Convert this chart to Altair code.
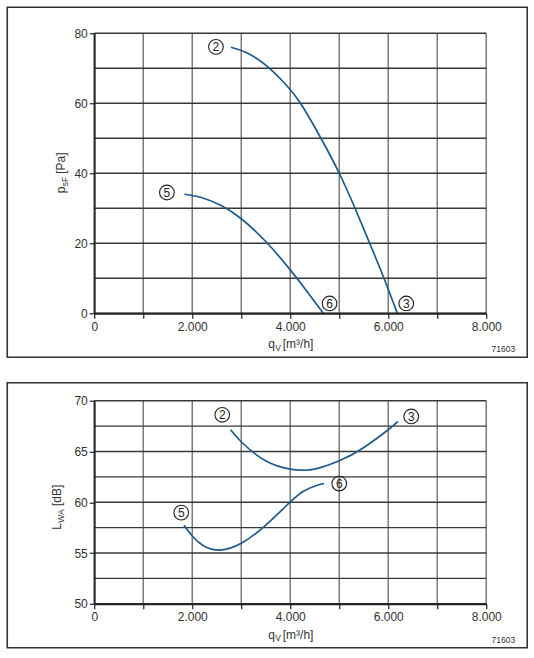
import altair as alt
import pandas as pd

# ---------------- data ----------------
x_ticks = [0, 1000, 2000, 3000, 4000, 5000, 6000, 7000, 8000]
p_ticks = [0, 10, 20, 30, 40, 50, 60, 70, 80]
L_ticks = [50, 52.5, 55, 57.5, 60, 62.5, 65, 67.5, 70]

# pressure curves (q in m3/h, p in Pa)
p23_q = [2790, 3100, 3500, 3900, 4209, 4626, 5000, 5322, 5621, 5913, 6185]
p23_v = [76.0, 74.5, 70.9, 65.5, 60.0, 50.0, 40.0, 30.0, 20.0, 10.0, 0.0]
p56_q = [1840, 2200, 2600, 3000, 3500, 4000, 4350, 4675]
p56_v = [34.0, 33.0, 30.7, 27.0, 20.5, 12.4, 6.1, 0.0]

# sound power curves (q in m3/h, L in dB)
L23_q = [2782, 3000, 3496, 4000, 4245, 4496, 5000, 5503, 6000, 6197]
L23_v = [67.14, 65.96, 64.08, 63.26, 63.16, 63.26, 64.08, 65.40, 67.14, 67.96]
L56_q = [1830, 2000, 2237, 2578, 3000, 3496, 4000, 4278, 4551, 4687]
L56_v = [57.73, 56.68, 55.69, 55.29, 55.95, 57.73, 60.03, 61.12, 61.68, 61.84]

label_names = ["2", "3", "5", "6"]
p_label_q = [2484, 6367, 1483, 4802]
p_label_v = [76.1, 2.8, 34.5, 2.8]
L_label_q = [2612, 6469, 1775, 5000]
L_label_v = [68.62, 68.45, 58.98, 61.84]

fig_number = "71603"

# ---------------- style ----------------
FONT = "Liberation Sans"
CURVE = "#1d5a8c"
W = 392
H_TOP = 280
H_BOT = 203


def x_axis():
    return alt.Axis(
        values=x_ticks,
        labelExpr="datum.value % 2000 == 0 ? replace(format(datum.value, ','), ',', '.') : ' '",
        title=None, grid=False,
        tickColor="#222", tickSize=5, tickWidth=1.2,
        domainColor="#222", domainWidth=1.8,
        labelFont=FONT, labelFontSize=12, labelColor="#333",
        labelPadding=3, labelFlush=False, labelOverlap=False, zindex=2,
    )


def y_axis(ticks, step):
    return alt.Axis(
        values=ticks,
        labelExpr=f"datum.value % {step} == 0 ? format(datum.value, 'd') : ' '",
        title=None, grid=False,
        tickColor="#222", tickSize=5, tickWidth=1.2,
        domainColor="#222", domainWidth=1.8,
        labelFont=FONT, labelFontSize=12, labelColor="#333",
        labelPadding=2, labelFlush=False, labelOverlap=False, zindex=2,
    )


one = alt.Data(values=[{"k": 1}])


def txt(s, x, y, size=12, angle=0, align="left", dy=0):
    kw = dict(text=s, font=FONT, fontSize=size, color="#333",
              align=align, baseline="alphabetic")
    if angle:
        kw["angle"] = angle
    return alt.Chart(one).mark_text(**kw).encode(
        x=alt.value(x), y=alt.value(y + dy))


def panel(cq, cv, lq, lv, ymin, ymax, ticks, step, h, box_top, ytitle, ytitle_x):
    df = pd.concat([
        pd.DataFrame({"q": cq[0], "v": cv[0], "curve": "a"}),
        pd.DataFrame({"q": cq[1], "v": cv[1], "curve": "b"}),
    ])
    lab = pd.DataFrame({"q": lq, "v": lv, "t": label_names})

    xs = alt.Scale(domain=[0, 8000], nice=False)
    ys = alt.Scale(domain=[ymin, ymax], nice=False, zero=False)

    vgrid = alt.Chart(pd.DataFrame({"q": x_ticks})).mark_rule(
        color="#7c7c7c", strokeWidth=1.5
    ).encode(x=alt.X("q:Q", scale=xs, axis=x_axis()))
    hgrid = alt.Chart(pd.DataFrame({"v": ticks})).mark_rule(
        color="#383838", strokeWidth=1.4
    ).encode(y=alt.Y("v:Q", scale=ys, axis=y_axis(ticks, step)))

    box = alt.Chart(one).mark_rect(
        filled=False, stroke="#333333", strokeWidth=1.6
    ).encode(x=alt.value(-87), x2=alt.value(W + 41),
             y=alt.value(box_top), y2=alt.value(h + 44))

    lines = alt.Chart(df).mark_line(
        color=CURVE, strokeWidth=1.7, interpolate="natural"
    ).encode(
        x=alt.X("q:Q", scale=xs),
        y=alt.Y("v:Q", scale=ys),
        detail="curve:N",
    )

    circ = alt.Chart(lab).mark_point(
        shape="circle", filled=False, size=215, stroke="#222", strokeWidth=1.1, opacity=1
    ).encode(x="q:Q", y="v:Q")
    ctext = alt.Chart(lab).mark_text(
        font=FONT, fontSize=12, color="#222", baseline="middle", dy=0.5
    ).encode(x="q:Q", y="v:Q", text="t:N")

    base_y = h + 35
    xt = [
        txt("q", 174, base_y),
        txt("V", 181, base_y, size=8.5, dy=2.5),
        txt("[m³/h]", 188.5, base_y),
    ]
    yt = []
    main, sub, unit, y0 = ytitle
    # rotated title: text runs upward from anchor
    yt.append(txt(main, ytitle_x, y0, angle=270))
    yt.append(txt(sub, ytitle_x + 2.5, y0 - 7, size=8.5, angle=270))
    unit_y = y0 - 7 - (9.4 if sub == "sF" else 13.7) - 3
    yt.append(txt(unit, ytitle_x, unit_y, angle=270))

    num = txt(fig_number, 421, h + 39, size=8.5, align="right")

    return alt.layer(vgrid, hgrid, box, lines, circ, ctext, *xt, *yt, num).properties(
        width=W, height=h)


top = panel([p23_q, p56_q], [p23_v, p56_v], p_label_q, p_label_v,
            0, 80, p_ticks, 20, H_TOP, -26, ("p", "sF", "[Pa]", 160), -29)
bot = panel([L23_q, L56_q], [L23_v, L56_v], L_label_q, L_label_v,
            50, 70, L_ticks, 5, H_BOT, -18, ("L", "WA", "[dB]", 129), -33)

chart = alt.vconcat(top, bot, spacing=23.5).properties(
    padding={"left": 6.25, "top": 6.25, "right": 0, "bottom": 0},
    background="white",
).configure_view(strokeWidth=0)

chart.save("out.html", embed_options={"renderer": "svg", "actions": False})
